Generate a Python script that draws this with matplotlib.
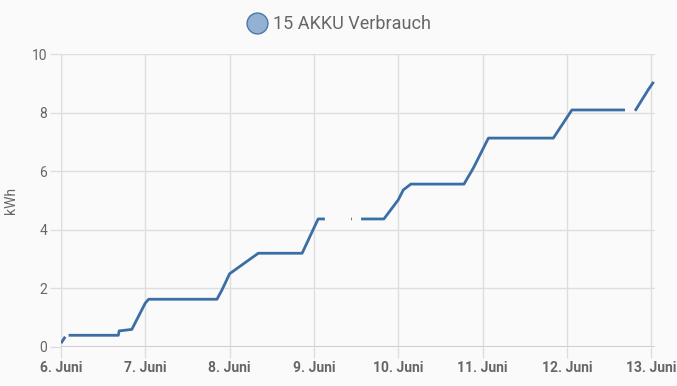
import matplotlib
matplotlib.use("Agg")
import matplotlib.pyplot as plt
import numpy as np
from matplotlib.lines import Line2D

plt.rcParams['font.family'] = ['Roboto', 'DejaVu Sans']

# days since 6. Juni 00:00 ; NaN = gap
days = [0.00, 0.05, np.nan,
        0.09, 0.68, 0.69, 0.84, 1.00, 1.04, 1.85, 1.91, 2.00, 2.34, 2.86, 3.05, 3.13, np.nan,
        3.44, 3.45, np.nan,
        3.56, 3.83, 4.00, 4.06, 4.15, 4.78, 4.89, 5.07, 5.84, 6.06, 6.69, np.nan,
        6.81, 6.97, 7.03]
kwh = [0.13, 0.35, np.nan,
       0.40, 0.40, 0.55, 0.60, 1.50, 1.63, 1.63, 1.95, 2.50, 3.20, 3.20, 4.37, 4.37, np.nan,
       4.37, 4.37, np.nan,
       4.37, 4.37, 5.02, 5.36, 5.56, 5.56, 6.10, 7.13, 7.13, 8.09, 8.09, np.nan,
       8.06, 8.80, 9.05]

xtick_pos = [0, 1, 2, 3, 4, 5, 6, 7]
xtick_labels = ["6. Juni", "7. Juni", "8. Juni", "9. Juni", "10. Juni",
                "11. Juni", "12. Juni", "13. Juni"]
yticks = [0, 2, 4, 6, 8, 10]
series_name = "15 AKKU Verbrauch"

line_color = "#3b6ea5"
bg = "#fafafa"
grid_c = "#dedede"

fig = plt.figure(figsize=(6.77, 3.86), dpi=100, facecolor=bg)
ax = fig.add_axes([61/677, 39/386, 594/677, 293/386], facecolor=bg)

ax.plot(days, kwh, color=line_color, lw=2, solid_capstyle='butt', solid_joinstyle='round')

ax.set_xlim(0, 7.046)
ax.set_ylim(0, 10)
ax.set_xticks(xtick_pos)
ax.set_xticklabels(xtick_labels, fontweight='bold', color="#666666", fontsize=10)
ax.set_yticks(yticks)
ax.set_yticklabels([str(v) for v in yticks], color="#666666", fontsize=10)
ax.tick_params(axis='both', length=8, width=1, color=grid_c, pad=2)
ax.grid(True, color=grid_c, lw=1)
ax.set_axisbelow(True)
for s in ax.spines.values():
    s.set_visible(False)
ax.axhline(0, color="#c8c8c8", lw=1.2, zorder=1)
ax.axvline(0, color=grid_c, lw=1, zorder=0)

ax.set_ylabel("kWh", color="#666666", fontsize=10, labelpad=10)

handle = Line2D([], [], marker='o', linestyle='None', markersize=15,
                markerfacecolor="#94b0d3", markeredgecolor="#4a78aa", markeredgewidth=1)
fig.legend([handle], [series_name], loc='center', bbox_to_anchor=(0.5, 1 - 24/386),
           frameon=False, fontsize=13, labelcolor="#666666", handletextpad=0.3,
           borderpad=0, handlelength=1.2)

fig.savefig("out.png", dpi=100, facecolor=bg)
